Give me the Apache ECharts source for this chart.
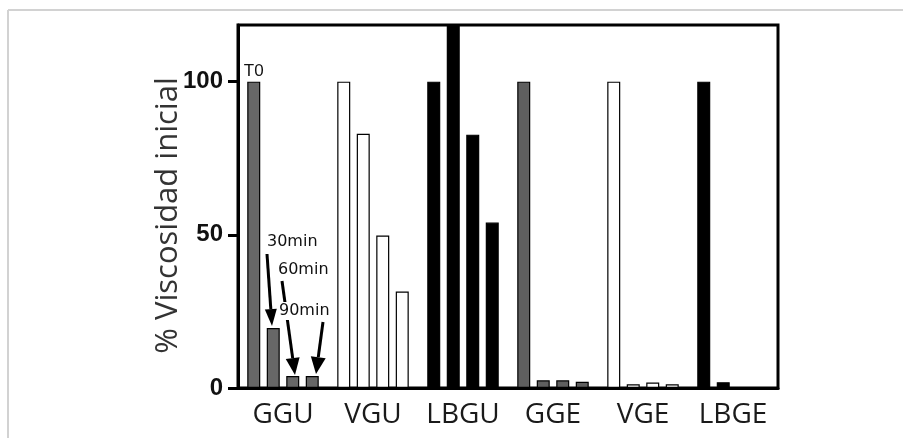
<!DOCTYPE html>
<html>
<head>
<meta charset="utf-8">
<script src="https://cdn.jsdelivr.net/npm/echarts@6/dist/echarts.min.js"></script>
<style>
  html, body { margin: 0; padding: 0; background: #fff; }
  #main { width: 903px; height: 438px; }
</style>
</head>
<body>
<div id="main"></div>
<script>
// datos
var categories = ['GGU', 'VGU', 'LBGU', 'GGE', 'VGE', 'LBGE'];
var catColors = ['#676767', '#ffffff', '#000000', '#5f5f5f', '#ffffff', '#000000'];
var seriesNames = ['T0', '30min', '60min', '90min'];
var t0 = [100, 100, 100, 100, 100, 100];
var min30 = [19.6, 83, 125, 2.5, 1.2, 1.9];
var min60 = [3.9, 49.8, 82.7, 2.5, 1.8, 0];
var min90 = [3.9, 31.5, 54, 2.0, 1.2, 0];
var yTicks = [0, 50, 100];

var myChart = echarts.init(document.getElementById('main'));

function buildData(values, withT0Label) {
    return values.map(function (v, i) {
        var item = {
            value: v,
            itemStyle: { color: catColors[i], borderColor: '#000', borderWidth: 1.2 }
        };
        if (withT0Label && i === 0) {
            item.label = {
                show: true, position: 'top', distance: 2, formatter: 'T0',
                fontFamily: 'Liberation Sans Narrow, Liberation Sans, sans-serif',
                fontSize: 17, color: '#111'
            };
        }
        return item;
    });
}

var allValues = [t0, min30, min60, min90];
var series = allValues.map(function (vals, k) {
    return {
        name: seriesNames[k],
        type: 'bar',
        barWidth: 13,
        barGap: '50%',
        clip: true,
        data: buildData(vals, k === 0)
    };
});

// flechas de anotacion
function arrow(x1, y1, x2, y2, headLen, headW) {
    var dx = x2 - x1, dy = y2 - y1;
    var len = Math.sqrt(dx * dx + dy * dy);
    var ux = dx / len, uy = dy / len;
    var bx = x2 - ux * headLen, by = y2 - uy * headLen;
    var px = -uy * headW / 2, py = ux * headW / 2;
    return [
        { type: 'line', z: 10, shape: { x1: x1, y1: y1, x2: bx, y2: by }, style: { stroke: '#000', lineWidth: 3 } },
        { type: 'polygon', z: 10, shape: { points: [[x2, y2], [bx + px, by + py], [bx - px, by - py]] }, style: { fill: '#000' } }
    ];
}

var annFont = '16px "DejaVu Sans", sans-serif';
var graphics = [
    { type: 'line', shape: { x1: 8, y1: 10, x2: 903, y2: 10 }, style: { stroke: '#d2d2d2', lineWidth: 2 } },
    { type: 'line', shape: { x1: 8, y1: 10, x2: 8, y2: 438 }, style: { stroke: '#d2d2d2', lineWidth: 2 } }
];
graphics = graphics
    .concat(arrow(267, 254, 272, 326, 17, 12))
    .concat(arrow(282, 281, 295, 375, 17, 14))
    .concat(arrow(323, 322, 316, 374, 17, 15))
    .concat([
        { type: 'text', z: 20, left: 267, top: 234, style: { text: '30min', font: annFont, fill: '#111' } },
        { type: 'text', z: 20, left: 278, top: 262, style: { text: '60min', font: annFont, fill: '#111' } },
        { type: 'text', z: 20, left: 278, top: 302, style: { text: '90min', font: annFont, fill: '#111', backgroundColor: '#fff', padding: [1, 1, 1, 1] } }
    ]);

option = {
    backgroundColor: '#fff',
    animation: false,
    grid: {
        left: 238,
        right: 125,
        top: 25,
        bottom: 50,
        show: true,
        borderColor: '#000',
        borderWidth: 3,
        backgroundColor: 'transparent'
    },
    xAxis: {
        type: 'category',
        data: categories,
        axisLine: { lineStyle: { color: '#000', width: 3 } },
        axisTick: { alignWithLabel: true, interval: 0, length: 10, lineStyle: { color: '#000', width: 3 } },
        axisLabel: {
            interval: 0,
            margin: 13,
            fontFamily: 'Open Sans, sans-serif',
            fontSize: 28,
            color: '#1a1a1a'
        }
    },
    yAxis: {
        type: 'value',
        min: 0,
        max: 118.5,
        interval: 50,
        name: '% Viscosidad inicial',
        nameLocation: 'middle',
        nameGap: 54,
        nameMoveOverlap: false,
        nameTextStyle: {
            fontFamily: 'Open Sans, sans-serif',
            fontSize: 31,
            color: '#333',
            padding: [0, 18, 0, 0]
        },
        splitLine: { show: false },
        axisLine: { show: true, lineStyle: { color: '#000', width: 3 } },
        axisTick: { show: true, length: 10, lineStyle: { color: '#000', width: 3 } },
        axisLabel: {
            showMaxLabel: false,
            margin: 15,
            fontFamily: 'Liberation Sans, Arial, sans-serif',
            fontWeight: 'bold',
            fontSize: 24,
            color: '#111',
            formatter: function (v) { return yTicks.indexOf(v) >= 0 ? String(v) : ''; }
        }
    },
    series: series,
    graphic: graphics
};

myChart.setOption(option);
</script>
</body>
</html>
